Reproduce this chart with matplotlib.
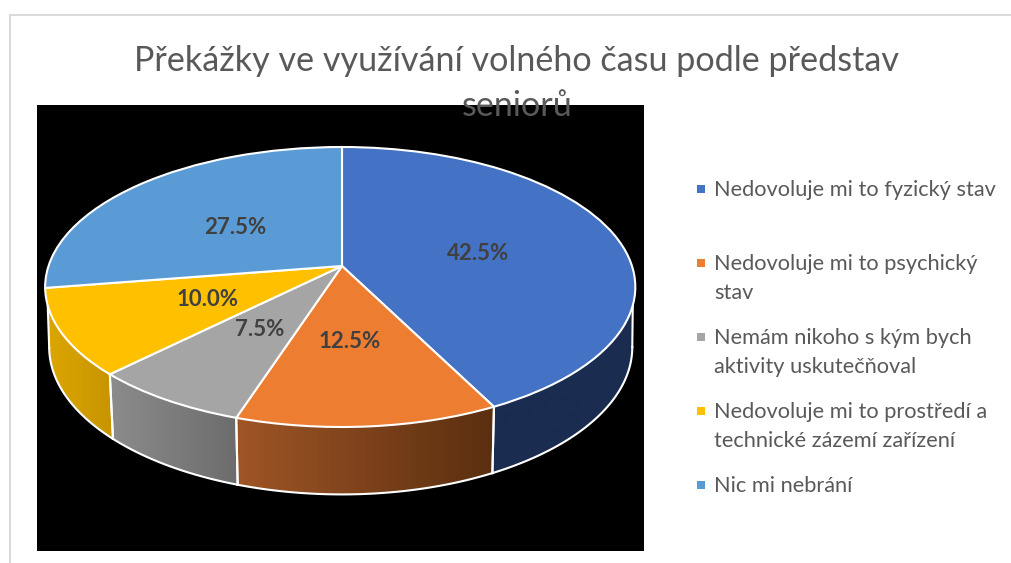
import numpy as np
import matplotlib
matplotlib.use("Agg")
import matplotlib.pyplot as plt
from matplotlib.patches import Polygon, Rectangle
from matplotlib.transforms import Transform

title_lines = ["Překážky ve využívání volného času podle představ", "seniorů"]
categories = ["Nedovoluje mi to fyzický stav", "Nedovoluje mi to psychický\nstav",
              "Nemám nikoho s kým bych\naktivity uskutečňoval",
              "Nedovoluje mi to prostředí a\ntechnické zázemí zařízení", "Nic mi nebrání"]
values = [42.5, 12.5, 7.5, 10.0, 27.5]
top_colors = ["#4472C4", "#ED7D31", "#A5A5A5", "#FFC000", "#5B9BD5"]
wall_left = ["#1A2C50", "#A05526", "#8C8C8C", "#DCA600", "#34597B"]
wall_right = ["#1A2C50", "#5A2F10", "#6C6C6C", "#C69400", "#34597B"]
label_xy = [(478, 254), (350, 341), (260, 330), (208, 300), (235, 227)]
legend_y = [196, 270, 344, 418, 492]

FONT = "Lato"
GREY = "#595959"
TOP = dict(cx=342.0, cy=266.0, rxl=293.5, rxr=290.0, ry=136.85, k=0.15)
BOT = dict(cx=342.0, cy=325.0, rxl=289.5, rxr=287.0, ry=144.0, k=0.15)
TOP_LIM = np.radians([106.0, 254.0])
BOT_LIM = np.radians([98.6, 261.4])


def project(u, v, p):
    u = np.asarray(u, float)
    v = np.asarray(v, float)
    w = 1 + p["k"] * v
    rx = np.where(u < 0, p["rxl"], p["rxr"])
    return p["cx"] + rx * u / w, p["cy"] - p["ry"] * v / w


class Perspective(Transform):
    input_dims = output_dims = 2
    is_affine = False
    has_inverse = False

    def __init__(self, p):
        super().__init__()
        self.p = p

    def transform_non_affine(self, values):
        v = np.asarray(values, float)
        x, y = project(v[:, 0], v[:, 1], self.p)
        return np.column_stack([x, y])


fig = plt.figure(figsize=(10.11, 5.63), dpi=100, facecolor="white")
ax = fig.add_axes([0, 0, 1, 1])

ax.add_patch(Rectangle((37, 105), 607, 446, fc="black", ec="none", zorder=1))
ax.plot([1011, 9.7, 9.7], [15.2, 15.2, 563], color="#D9D9D9", lw=1.4, zorder=1,
        solid_joinstyle="miter")

# side walls of the visible front part
fractions = np.cumsum([0] + values) / 100
for i in range(len(values)):
    a0, a1 = 2 * np.pi * fractions[i], 2 * np.pi * fractions[i + 1]
    if a0 >= TOP_LIM[1] or a1 <= TOP_LIM[0]:
        continue
    tt = np.linspace(max(a0, TOP_LIM[0]), min(a1, TOP_LIM[1]), 80)
    tb = np.linspace(max(a0, BOT_LIM[0]), min(a1, BOT_LIM[1]), 80)
    xt, yt = project(np.sin(tt), np.cos(tt), TOP)
    xb, yb = project(np.sin(tb), np.cos(tb), BOT)
    poly = np.column_stack([np.r_[xt, xb[::-1]], np.r_[yt, yb[::-1]]])
    patch = Polygon(poly, closed=True, fc="none", ec="none", zorder=2)
    ax.add_patch(patch)
    c0 = np.array(matplotlib.colors.to_rgb(wall_left[i]))
    c1 = np.array(matplotlib.colors.to_rgb(wall_right[i]))
    ramp = np.linspace(0, 1, 128)[None, :, None]
    img = c0[None, None, :] * (1 - ramp) + c1[None, None, :] * ramp
    x0, x1 = poly[:, 0].min(), poly[:, 0].max()
    y0, y1 = poly[:, 1].min(), poly[:, 1].max()
    im = ax.imshow(img, extent=[x0, x1, y1, y0], aspect="auto", zorder=2, interpolation="bilinear")
    im.set_clip_path(patch)
    ax.plot(xb, yb, color="white", lw=1.5, zorder=3)
    ax.plot([xt[0], xb[0]], [yt[0], yb[0]], color="white", lw=1.5, zorder=3)
    ax.plot([xt[-1], xb[-1]], [yt[-1], yb[-1]], color="white", lw=1.5, zorder=3)

wedges, _ = ax.pie(values, colors=top_colors, startangle=90, counterclock=False,
                   wedgeprops=dict(edgecolor="white", linewidth=1.5, joinstyle="round"))
persp = Perspective(TOP)
for w in wedges:
    w.set_transform(persp + ax.transData)
    w.set_zorder(4)
    w.set_clip_on(False)

for val, (x, y) in zip(values, label_xy):
    ax.text(x, y, f"{val:.1f}%", ha="center", va="center", family=FONT, weight="bold",
            fontsize=16, color="#404040", zorder=6)

ax.text(517, 71, title_lines[0], ha="center", va="baseline", family=FONT, fontsize=24.6,
        color=GREY, zorder=7)
ax.text(517, 116, title_lines[1], ha="center", va="baseline", family=FONT, fontsize=24.6,
        color=GREY, zorder=7)

for name, col, y in zip(categories, top_colors, legend_y):
    ax.add_patch(Rectangle((697, y - 11), 8, 8, fc=col, ec="none", zorder=6))
    for n, line in enumerate(name.split("\n")):
        ax.text(714, y + 29 * n, line, ha="left", va="baseline", family=FONT,
                fontsize=15.7, color=GREY, zorder=7)

ax.set_aspect("auto")
ax.set_xlim(0, 1011)
ax.set_ylim(563, 0)
ax.axis("off")
fig.savefig("out.png", dpi=100, facecolor="white")
